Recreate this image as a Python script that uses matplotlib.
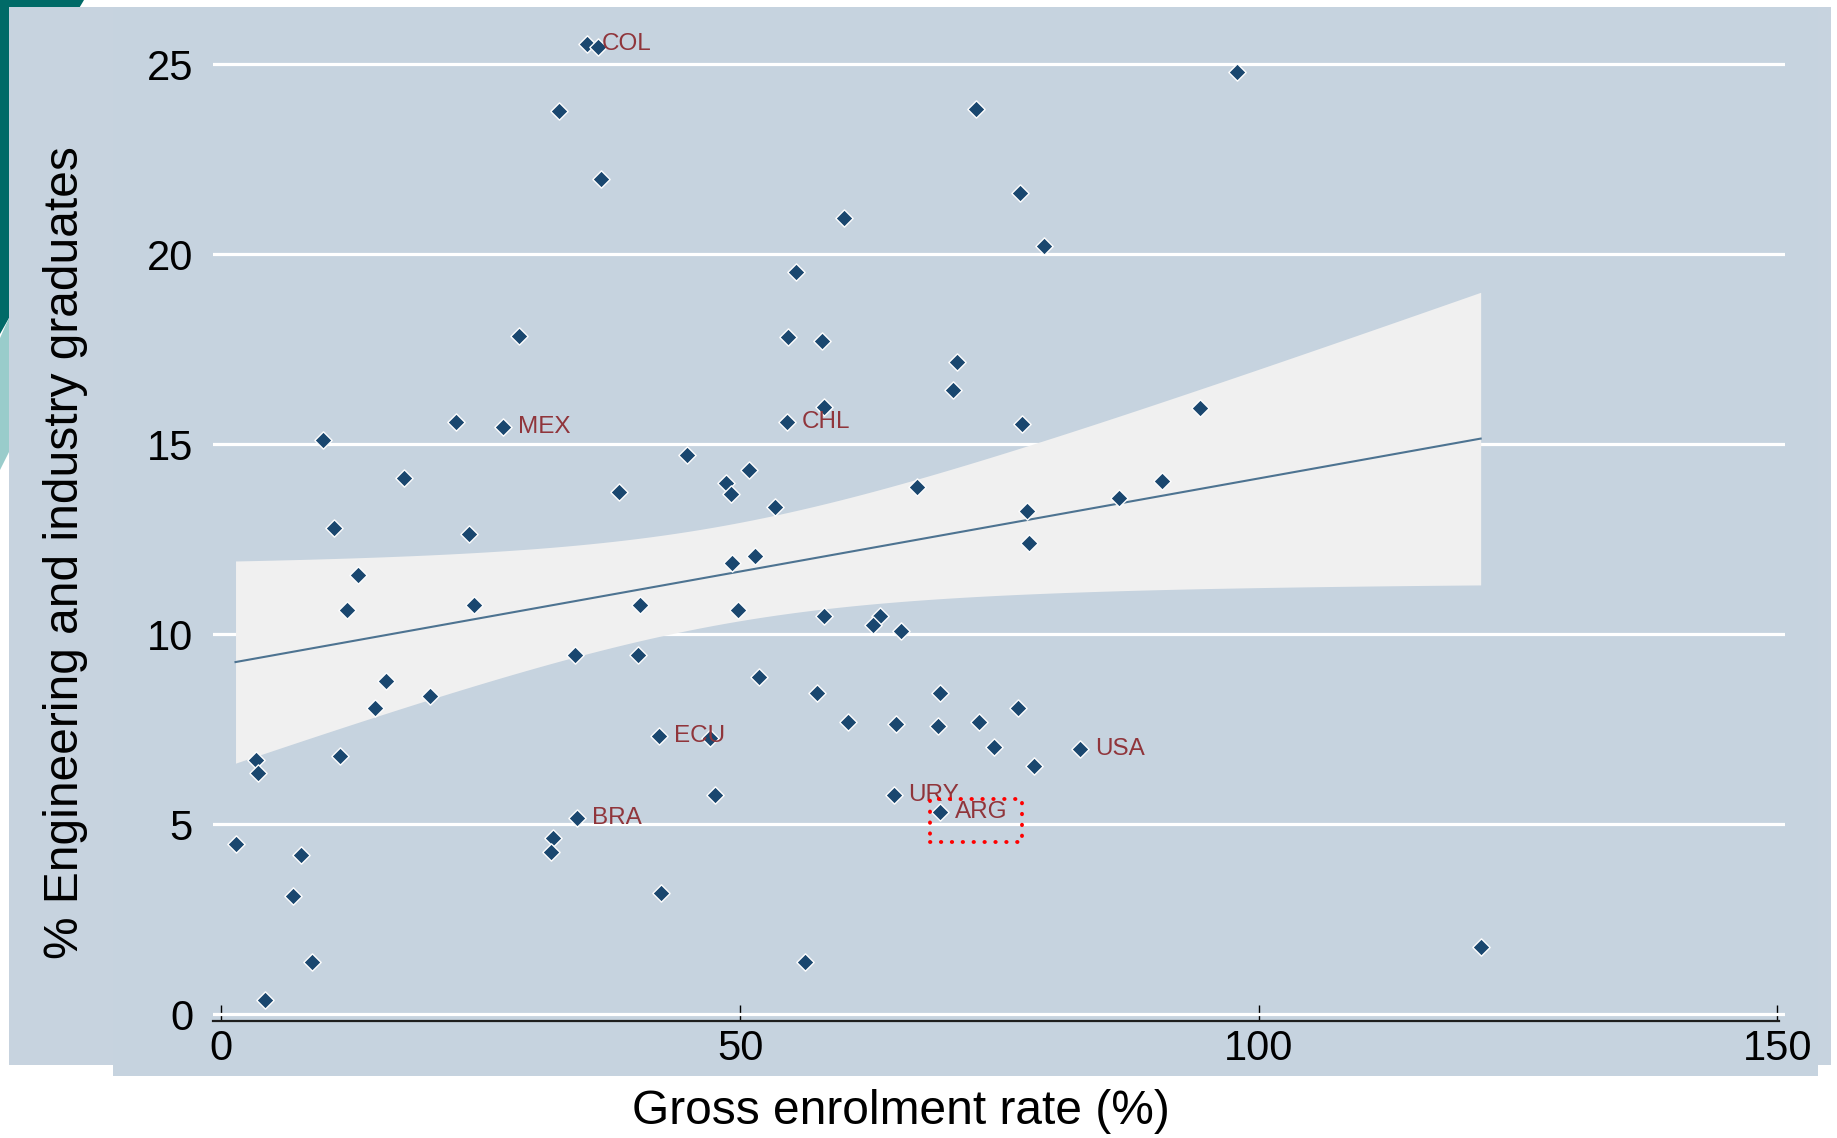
import numpy as np
import matplotlib
matplotlib.use("Agg")
import matplotlib.pyplot as plt
from matplotlib.patches import Rectangle, Polygon

# ---------------- data ----------------
gross_enrolment = [35.2, 36.3, 32.5, 36.6, 97.9, 72.7, 77.0, 79.3, 60.0, 55.4,
                   28.7, 54.6, 57.9, 70.9, 70.5, 58.1, 94.3, 22.6, 27.1, 54.5,
                   77.2, 9.8, 44.9, 17.6, 50.9, 48.6, 49.1, 38.3, 67.1, 90.7,
                   86.5, 53.4, 77.7, 10.9, 23.9, 77.9, 51.4, 49.2, 13.2, 12.1,
                   24.4, 40.4, 49.8, 58.1, 63.5, 62.8, 65.5, 34.1, 40.2, 51.8,
                   15.9, 57.4, 69.3, 14.8, 20.1, 76.8, 60.4, 65.0, 69.1, 73.0,
                   42.2, 47.1, 74.5, 82.8, 78.3, 3.3, 3.5, 11.4, 47.6, 64.8,
                   69.3, 34.3, 1.36, 7.65, 32.0, 31.8, 6.9, 42.4, 8.7, 56.3,
                   121.4, 4.2]
eng_share = [25.53, 25.44, 23.76, 21.99, 24.79, 23.82, 21.61, 20.22, 20.95, 19.53,
             17.86, 17.82, 17.71, 17.17, 16.43, 15.99, 15.95, 15.59, 15.45, 15.59,
             15.54, 15.11, 14.71, 14.12, 14.32, 13.97, 13.68, 13.73, 13.88, 14.03,
             13.58, 13.35, 13.24, 12.80, 12.64, 12.40, 12.05, 11.87, 11.57, 10.64,
             10.77, 10.77, 10.63, 10.48, 10.48, 10.24, 10.09, 9.45, 9.45, 8.86,
             8.76, 8.46, 8.46, 8.07, 8.37, 8.07, 7.68, 7.63, 7.58, 7.68,
             7.33, 7.28, 7.03, 6.99, 6.54, 6.70, 6.34, 6.80, 5.76, 5.76,
             5.32, 5.17, 4.48, 4.18, 4.63, 4.28, 3.10, 3.20, 1.38, 1.38,
             1.78, 0.36]
country_labels = {0: "COL", 18: "MEX", 19: "CHL", 60: "ECU", 63: "USA",
                  69: "URY", 70: "ARG", 71: "BRA"}
x_ticks = [0, 50, 100, 150]
y_ticks = [0, 5, 10, 15, 20, 25]
x_title = "Gross enrolment rate (%)"
y_title = "% Engineering and industry graduates"
highlight_box = (68.3, 4.52, 77.2, 5.67)   # x0, y0, x1, y1 around ARG

# ---------------- figure ----------------
W, H = 1837, 1138
plt.rcParams['font.family'] = ['Liberation Sans', 'DejaVu Sans']
fig = plt.figure(figsize=(W / 100, H / 100), dpi=100)
fig.patch.set_facecolor('white')

def fp(pts):
    return [(px / W, 1 - py / H) for px, py in pts]

# slide decorations (teal shapes in the top-left corner)
fig.add_artist(Polygon(fp([(0, 0), (84, 0), (60, 40), (9, 200), (9, 318), (0, 334)]),
                       closed=True, transform=fig.transFigure, facecolor='#006a67',
                       edgecolor='none', zorder=0))
fig.add_artist(Polygon(fp([(0, 338), (9, 318), (9, 452), (0, 470)]),
                       closed=True, transform=fig.transFigure, facecolor='#99cccb',
                       edgecolor='none', zorder=0))

panel_col = '#c6d3df'
# outer panel and inner graph region
fig.add_artist(Rectangle((9 / W, 1 - 1065 / H), (1831 - 9) / W, (1065 - 7) / H,
                         transform=fig.transFigure, facecolor='#c7d3df',
                         edgecolor='none', zorder=0.5))
fig.add_artist(Rectangle((113 / W, 1 - 1076 / H), (1818 - 113) / W, (1076 - 7) / H,
                         transform=fig.transFigure, facecolor=panel_col,
                         edgecolor='none', zorder=0.6))

ax = fig.add_axes([213 / W, 1 - 1021 / H, (1785 - 213) / W, (1021 - 30) / H])
ax.set_facecolor(panel_col)
ax.set_zorder(2)

x = np.array(gross_enrolment)
y = np.array(eng_share)

# linear fit with 95% CI of the mean prediction
n = len(x)
xm, ym = x.mean(), y.mean()
sxx = np.sum((x - xm) ** 2)
b = np.sum((x - xm) * (y - ym)) / sxx
a = ym - b * xm
s2 = np.sum((y - (a + b * x)) ** 2) / (n - 2)
xg = np.linspace(x.min(), x.max(), 100)
yg = a + b * xg
se = np.sqrt(s2 * (1.0 / n + (xg - xm) ** 2 / sxx))
tcrit = 1.990
ax.fill_between(xg, yg - tcrit * se, yg + tcrit * se, color='#f0f0f0',
                linewidth=0, zorder=1)
ax.plot(xg, yg, color='#4d7391', lw=1.5, zorder=2)

ax.scatter(x, y, marker='D', s=8.8 ** 2, c='#1a476f', edgecolors='white',
           linewidths=1.0, zorder=3)
for i, lab in country_labels.items():
    ax.annotate(lab, (x[i], y[i]), xytext=(10.8, 0), textcoords='offset points',
                va='center', ha='left', fontsize=17.5, color='#90353b', zorder=4)

x0, y0, x1, y1 = highlight_box
ax.add_patch(Rectangle((x0, y0), x1 - x0, y1 - y0, fill=False, edgecolor='#ff0000',
                       lw=2.8, linestyle=(0, (0.1, 2.7)), capstyle='round', zorder=5))

ax.set_xlim(-0.81, 150.74)
ax.set_ylim(-0.18, 25.9)
ax.set_xticks(x_ticks)
ax.set_yticks(y_ticks)
ax.set_axisbelow(True)
ax.yaxis.grid(True, color='white', lw=2.3)
ax.xaxis.grid(False)
for s in ['top', 'right', 'left']:
    ax.spines[s].set_visible(False)
ax.spines['bottom'].set_color('#1e1e1e')
ax.spines['bottom'].set_linewidth(1.6)
ax.spines['bottom'].set_bounds(-0.81, 150.2)
ax.tick_params(axis='x', direction='in', length=11.5, width=1.0, color='black',
               pad=6, labelsize=30)
ax.tick_params(axis='y', length=0, pad=14.4, labelsize=30)

fig.text(901 / W, 1 - 1111 / H, x_title, ha='center', va='center', fontsize=34.5)
fig.text(66 / W, 1 - 553 / H, y_title, ha='center', va='center', rotation=90,
         fontsize=34.5)

fig.savefig('out.png', dpi=100, facecolor='white')
